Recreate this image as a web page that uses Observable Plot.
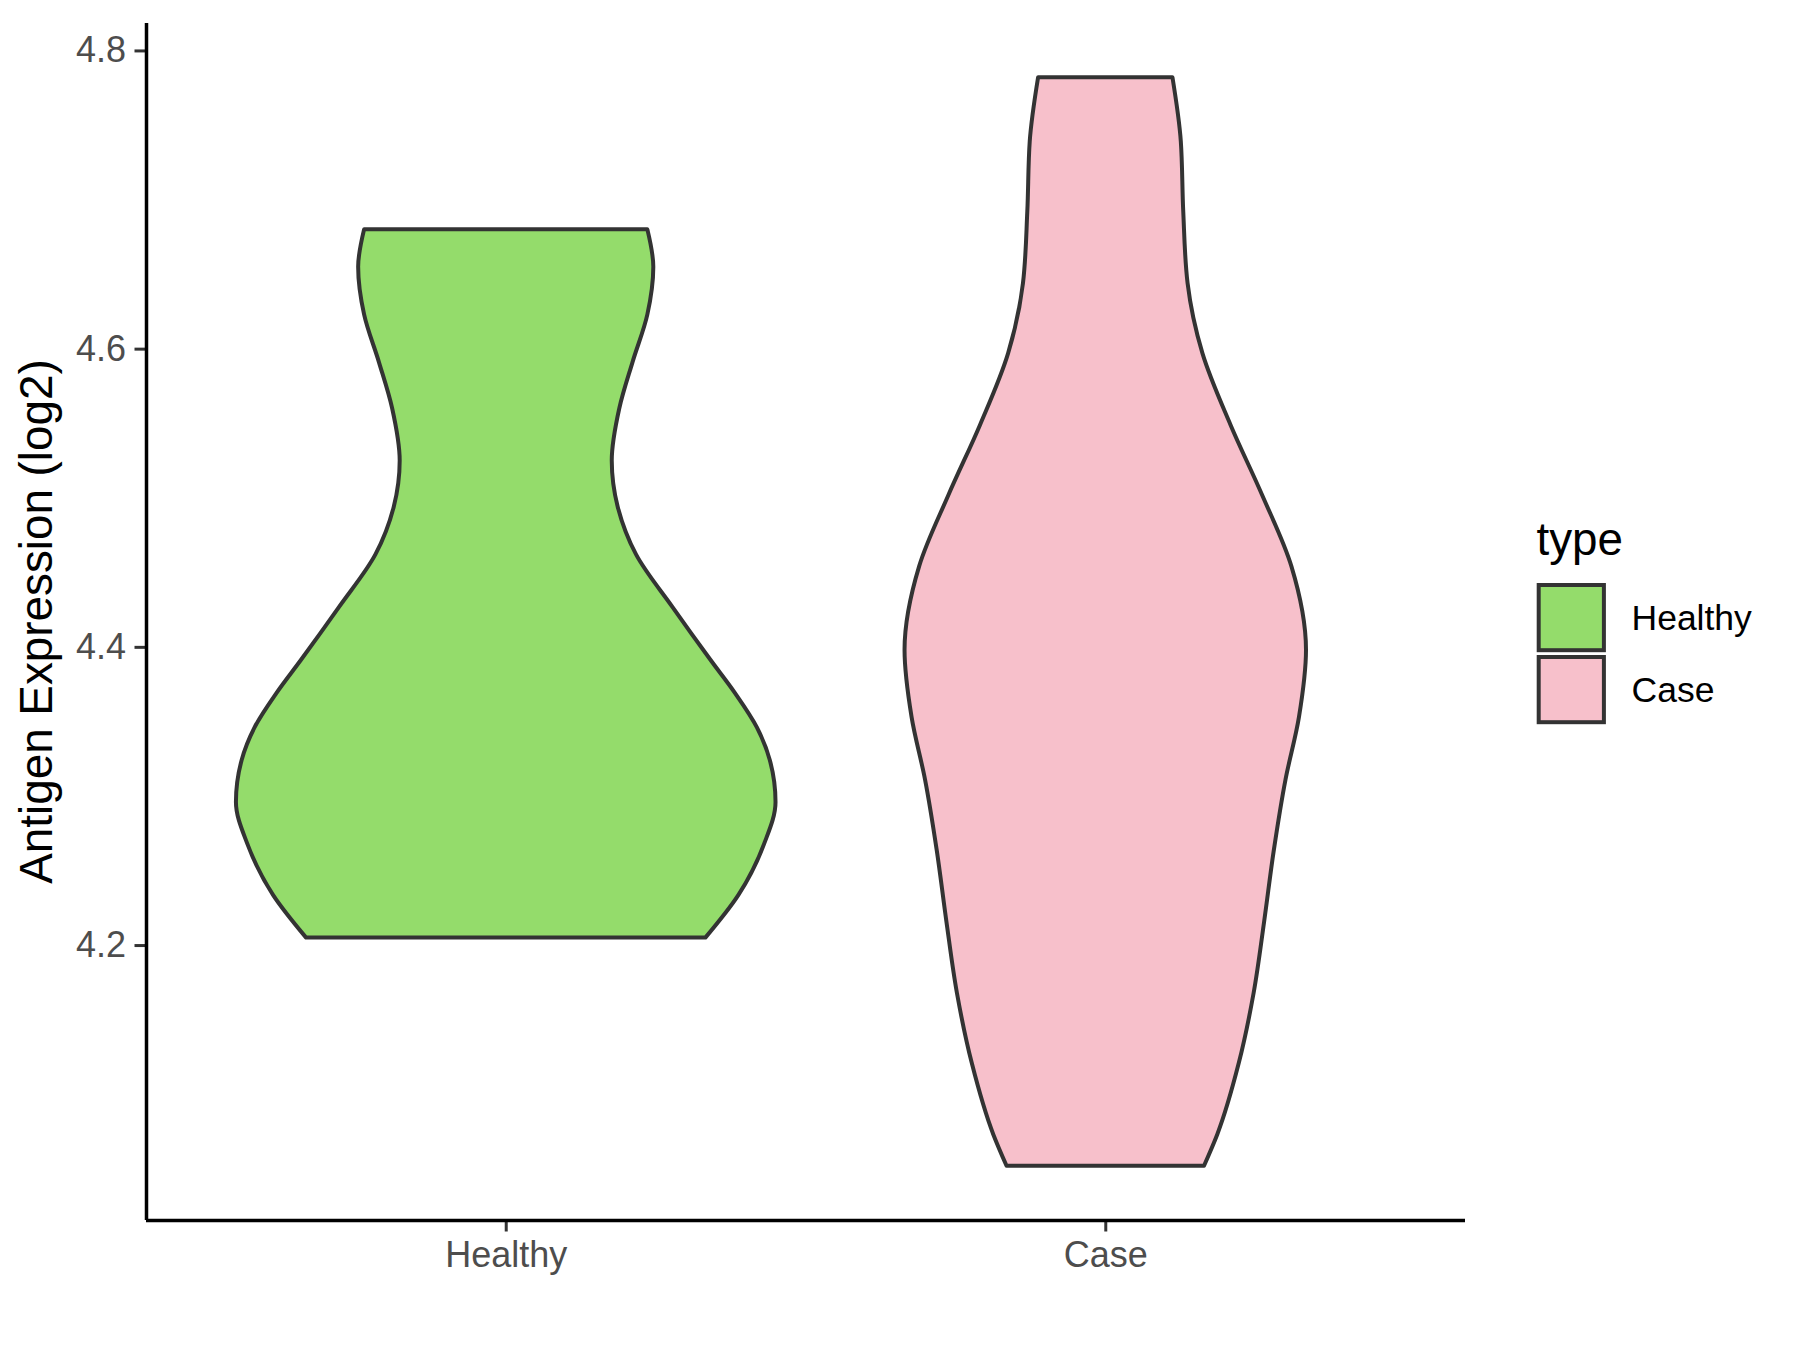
<!DOCTYPE html>
<html>
<head>
<meta charset="utf-8">
<script src="https://cdn.jsdelivr.net/npm/d3@7"></script>
<script src="https://cdn.jsdelivr.net/npm/@observablehq/plot@0.6"></script>
<style>
  html, body { margin: 0; padding: 0; background: #ffffff; }
  #wrap { position: relative; width: 1800px; height: 1350px; font-family: "Liberation Sans", Arial, sans-serif; }
  #legend { position: absolute; left: 1500px; top: 500px; }
</style>
</head>
<body>
<div id="wrap"></div>
<script>
// ---- data ----
const categories = ["Healthy", "Case"];
const fillColors = ["#94DC6B", "#F7C0CB"];
const yTicks = [4.2, 4.4, 4.6, 4.8];
const yDomain = [4.0156, 4.8184];
const xDomain = [0.4, 2.6];

// violin profiles: value (log2 expression) and relative density (width)
const healthyValues  = [4.205, 4.2335, 4.268, 4.296, 4.324, 4.346, 4.369, 4.391, 4.427, 4.462, 4.494, 4.525, 4.560, 4.591, 4.623, 4.655, 4.680];
const healthyDensity = [0.740, 0.862, 0.958, 1.000, 0.979, 0.931, 0.850, 0.760, 0.617, 0.483, 0.415, 0.393, 0.421, 0.470, 0.525, 0.547, 0.525];

const caseValues  = [4.052, 4.073, 4.121, 4.168, 4.216, 4.264, 4.311, 4.353, 4.398, 4.454, 4.502, 4.549, 4.597, 4.644, 4.692, 4.739, 4.782];
const caseDensity = [0.366, 0.415, 0.495, 0.550, 0.589, 0.625, 0.668, 0.718, 0.744, 0.690, 0.581, 0.464, 0.360, 0.305, 0.289, 0.280, 0.249];

const maxHalfWidth = 0.45;

function profile(values, density, idx) {
  return values.map((v, i) => ({
    category: categories[idx],
    pos: idx + 1,
    value: v,
    w: density[i] * maxHalfWidth
  }));
}
const healthyData = profile(healthyValues, healthyDensity, 0);
const caseData = profile(caseValues, caseDensity, 1);

const FONT = "Liberation Sans, Arial, sans-serif";

const violin = (data, idx) => Plot.areaX(data, {
  y: "value",
  x1: d => d.pos - d.w,
  x2: d => d.pos + d.w,
  fill: fillColors[idx],
  stroke: "#333333",
  strokeWidth: 4,
  curve: "monotone-y"
});

const chart = Plot.plot({
  width: 1800,
  height: 1350,
  marginLeft: 146,
  marginRight: 335,
  marginTop: 23,
  marginBottom: 130,
  style: { fontFamily: FONT, background: "#ffffff", overflow: "visible" },
  x: { domain: xDomain, axis: null },
  y: { domain: yDomain, axis: null },
  marks: [
    violin(healthyData, 0),
    violin(caseData, 1),
    Plot.axisX({
      ticks: [1, 2],
      tickFormat: d => categories[d - 1],
      tickSize: 11.5,
      tickPadding: 9,
      stroke: "#333333",
      strokeWidth: 3,
      fill: "#4D4D4D",
      fontSize: 36,
      label: null
    }),
    Plot.axisY({
      ticks: yTicks,
      tickFormat: d3.format(".1f"),
      tickSize: 11.5,
      tickPadding: 9,
      stroke: "#333333",
      strokeWidth: 3,
      fill: "#4D4D4D",
      fontSize: 36,
      label: null
    }),
    Plot.ruleX([xDomain[0]], { stroke: "#000000", strokeWidth: 3.5 }),
    Plot.ruleY([yDomain[0]], { stroke: "#000000", strokeWidth: 3.5 })
  ]
});

const wrap = document.getElementById("wrap");
wrap.appendChild(chart);

// y axis title
const svg = d3.select(chart);
svg.append("text")
  .attr("transform", `translate(52, ${(23 + 1220) / 2}) rotate(-90)`)
  .attr("text-anchor", "middle")
  .attr("font-family", FONT)
  .attr("font-size", 45.8)
  .attr("fill", "#000000")
  .text("Antigen Expression (log2)");

// legend
const leg = d3.select(wrap).append("svg")
  .attr("id", "legend")
  .attr("width", 300)
  .attr("height", 250)
  .style("font-family", FONT);

leg.append("text")
  .attr("x", 36.5).attr("y", 55)
  .attr("font-size", 45.8)
  .attr("fill", "#000000")
  .text("type");

categories.forEach((c, i) => {
  const top = 85 + i * 72;
  leg.append("rect")
    .attr("x", 38.7).attr("y", top)
    .attr("width", 65.2).attr("height", 65.2)
    .attr("fill", fillColors[i])
    .attr("stroke", "#333333")
    .attr("stroke-width", 4);
  leg.append("text")
    .attr("x", 131.5).attr("y", top + 45)
    .attr("font-size", 35.5)
    .attr("fill", "#000000")
    .text(c);
});
</script>
</body>
</html>
